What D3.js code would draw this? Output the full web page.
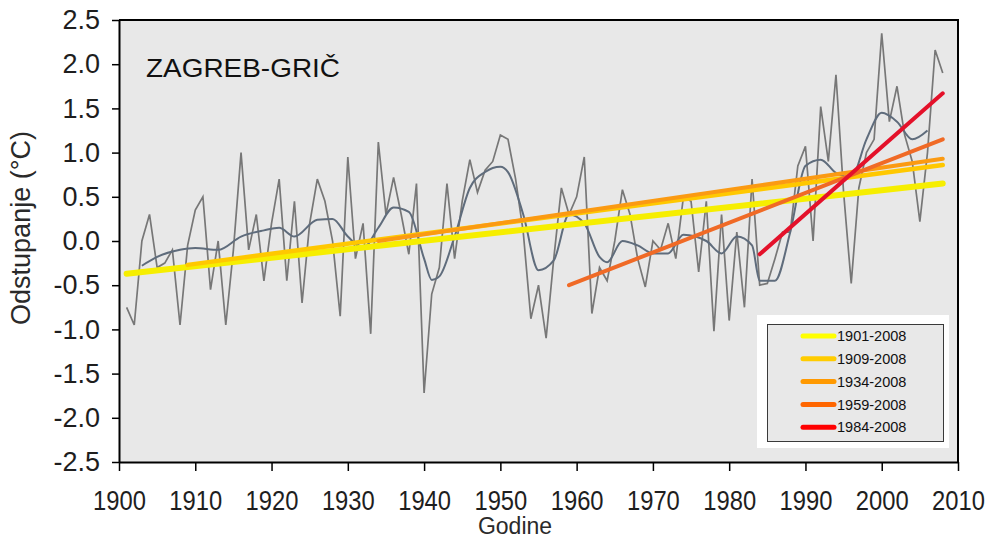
<!DOCTYPE html>
<html>
<head>
<meta charset="utf-8">
<script src="https://cdn.jsdelivr.net/npm/d3@7/dist/d3.min.js"></script>
<style>
  body { margin: 0; background: #fff; }
  svg { display: block; font-family: Arial, "Liberation Sans", sans-serif; }
</style>
</head>
<body>
<div class="chart"></div>
<script>
// annual temperature anomalies, Zagreb-Gric 1901-2008
var years = d3.range(1901, 2009);
var anomalies = [
  -0.75, -0.95, 0.0, 0.3, -0.3, -0.25, -0.1, -0.95, -0.05, 0.35,   // 1901-1910
  0.5, -0.55, 0.0, -0.95, -0.1, 1.0, -0.1, 0.3, -0.45, 0.2,        // 1911-1920
  0.7, -0.45, 0.45, -0.7, 0.2, 0.7, 0.45, 0.0, -0.85, 0.95,        // 1921-1930
  -0.2, 0.2, -1.05, 1.12, 0.3, 0.72, 0.3, -0.15, 0.65, -1.72,      // 1931-1940
  -0.6, -0.3, 0.65, -0.2, 0.45, 0.92, 0.55, 0.8, 0.9, 1.2,         // 1941-1950
  1.15, 0.7, 0.1, -0.88, -0.5, -1.1, -0.2, 0.6, 0.3, 0.5,          // 1951-1960
  0.95, -0.82, -0.3, -0.45, 0.0, 0.58, 0.3, -0.2, -0.52, 0.0,      // 1961-1970
  -0.1, 0.2, -0.2, 0.5, 0.45, -0.35, 0.45, -1.02, 0.3, -0.9,       // 1971-1980
  0.1, -0.75, 0.7, -0.5, -0.48, -0.2, 0.1, 0.1, 0.85, 1.07,        // 1981-1990
  0.0, 1.52, 0.9, 1.88, 0.55, -0.48, 0.6, 1.0, 1.15, 2.35,         // 1991-2000
  1.35, 1.75, 1.2, 0.9, 0.22, 1.0, 2.16, 1.9                       // 2001-2008
];

// smoothed curve
var smoothYears = [1903, 1905, 1908, 1910, 1913, 1916, 1919, 1921, 1923, 1926,
  1928, 1930, 1932, 1934, 1936, 1938, 1940, 1941, 1942, 1944, 1946, 1948, 1950,
  1951, 1953, 1955, 1957, 1959, 1961, 1963, 1964, 1966, 1968, 1970, 1972, 1974,
  1977, 1979, 1981, 1983, 1984, 1986, 1988, 1990, 1992, 1994, 1996, 1998, 2000,
  2002, 2004, 2006];
var smoothValues = [-0.28, -0.18, -0.1, -0.08, -0.1, 0.05, 0.12, 0.15, 0.05, 0.24,
  0.25, 0.05, -0.08, 0.15, 0.38, 0.33, -0.2, -0.44, -0.4, 0.05, 0.6, 0.78, 0.84,
  0.78, 0.3, -0.33, -0.22, 0.3, 0.2, -0.18, -0.24, 0.0, -0.05, -0.14, -0.14, 0.07,
  0.0, -0.14, 0.05, -0.05, -0.45, -0.45, 0.1, 0.85, 0.92, 0.77, 0.72, 1.15, 1.45,
  1.35, 1.15, 1.25];

// linear trends
var trendNames = ["1901-2008", "1909-2008", "1934-2008", "1959-2008", "1984-2008"];
var trendStartYear = [1901, 1909, 1934, 1959, 1984];
var trendEndYear = [2008, 2008, 2008, 2008, 2008];
var trendStartValue = [-0.37, -0.27, 0.0, -0.5, -0.15];
var trendEndValue = [0.65, 0.86, 0.93, 1.15, 1.67];

var yTicks = [2.5, 2.0, 1.5, 1.0, 0.5, 0.0, -0.5, -1.0, -1.5, -2.0, -2.5];
var xTicks = [1900, 1910, 1920, 1930, 1940, 1950, 1960, 1970, 1980, 1990, 2000, 2010];

var trendColors = ["#f6ee00", "#ffc800", "#fb9a12", "#f06a26", "#e4112a"];
var trendWidths = [6, 4.5, 4, 4, 4];

var margin = {top: 20, right: 34, bottom: 78, left: 119},
    width = 992 - margin.left - margin.right,
    height = 540 - margin.top - margin.bottom;

var x = d3.scaleLinear().domain([1900, 2010]).range([0, width]);
var y = d3.scaleLinear().domain([-2.5, 2.5]).range([height, 0]);

var svg = d3.select(".chart").append("svg")
    .attr("width", 992)
    .attr("height", 540)
  .append("g")
    .attr("transform", "translate(" + margin.left + "," + margin.top + ")");

// plot background
svg.append("rect")
    .attr("width", width)
    .attr("height", height)
    .attr("fill", "#e8e8e8");

// annual values
var annualLine = d3.line()
    .x(function(d, i) { return x(years[i]); })
    .y(function(d) { return y(d); });

svg.append("path")
    .datum(anomalies)
    .attr("fill", "none")
    .attr("stroke", "#777")
    .attr("stroke-width", 1.7)
    .attr("d", annualLine);

// smoothed
var smoothLine = d3.line()
    .x(function(d, i) { return x(smoothYears[i]); })
    .y(function(d) { return y(d); })
    .curve(d3.curveMonotoneX);

svg.append("path")
    .datum(smoothValues)
    .attr("fill", "none")
    .attr("stroke", "#5f6c7c")
    .attr("stroke-width", 2)
    .attr("d", smoothLine);

// trend lines
svg.selectAll(".trend")
    .data(trendNames)
  .enter().append("line")
    .attr("class", "trend")
    .attr("x1", function(d, i) { return x(trendStartYear[i]); })
    .attr("x2", function(d, i) { return x(trendEndYear[i]); })
    .attr("y1", function(d, i) { return y(trendStartValue[i]); })
    .attr("y2", function(d, i) { return y(trendEndValue[i]); })
    .attr("stroke", function(d, i) { return trendColors[i]; })
    .attr("stroke-width", function(d, i) { return trendWidths[i]; })
    .attr("stroke-linecap", "round");

// frame top + right
svg.append("path")
    .attr("d", "M0,0H" + width + "V" + height)
    .attr("fill", "none")
    .attr("stroke", "#000")
    .attr("stroke-width", 2);

// x axis
var xAxis = svg.append("g")
    .attr("transform", "translate(0," + height + ")")
    .call(d3.axisBottom(x).tickValues(xTicks).tickFormat(function(d) { return "" + d; })
      .tickSizeInner(9).tickSizeOuter(0).tickPadding(20));

// y axis, plain hyphen for the minus like the original
var yAxis = svg.append("g")
    .call(d3.axisLeft(y).tickValues(yTicks).tickFormat(function(d) { return d.toFixed(1); })
      .tickSizeInner(7).tickSizeOuter(0).tickPadding(12));

svg.selectAll(".domain").attr("stroke", "#000").attr("stroke-width", 2);
svg.selectAll(".tick line").attr("stroke", "#000").attr("stroke-width", 1.5);
svg.selectAll(".tick text")
    .style("font-size", "27px")
    .style("font-family", "Arial, 'Liberation Sans', sans-serif")
    .attr("fill", "#1e1e1e");
// the labels in the figure are a bit narrow
xAxis.selectAll(".tick text").attr("transform", "scale(0.88,1)");

// axis titles
svg.append("text")
    .attr("x", 396)
    .attr("y", height + 72)
    .attr("text-anchor", "middle")
    .style("font-size", "23px")
    .attr("fill", "#2a2a2a")
    .text("Godine");

svg.append("text")
    .attr("transform", "translate(" + (-89) + "," + 208 + ") rotate(-90)")
    .attr("text-anchor", "middle")
    .style("font-size", "27px")
    .attr("fill", "#2a2a2a")
    .text("Odstupanje (°C)");

// station name
svg.append("text")
    .attr("x", 27)
    .attr("y", 57)
    .attr("textLength", 194)
    .attr("lengthAdjust", "spacingAndGlyphs")
    .style("font-size", "26px")
    .attr("fill", "#111")
    .text("ZAGREB-GRIČ");

// legend
var legend = svg.append("g")
    .attr("transform", "translate(" + (757 - margin.left) + "," + (315 - margin.top) + ")");

legend.append("rect")
    .attr("width", 192)
    .attr("height", 133)
    .attr("fill", "#fff");

legend.append("rect")
    .attr("x", 10.5)
    .attr("y", 9.5)
    .attr("width", 176)
    .attr("height", 117)
    .attr("fill", "#e8e8e8")
    .attr("stroke", "#3a3a3a")
    .attr("stroke-width", 1);

var items = legend.selectAll(".item")
    .data(trendNames)
  .enter().append("g")
    .attr("class", "item")
    .attr("transform", function(d, i) { return "translate(0," + (21 + i * 22.8) + ")"; });

items.append("line")
    .attr("x1", 46)
    .attr("x2", 77)
    .attr("stroke", function(d, i) { return ["#ffff00", "#ffcc00", "#ff9900", "#ff6600", "#ff0000"][i]; })
    .attr("stroke-width", 5)
    .attr("stroke-linecap", "round");

items.append("text")
    .attr("x", 80)
    .attr("dy", "0.36em")
    .style("font-size", "14.5px")
    .attr("fill", "#111")
    .text(function(d) { return d; });
</script>
</body>
</html>
